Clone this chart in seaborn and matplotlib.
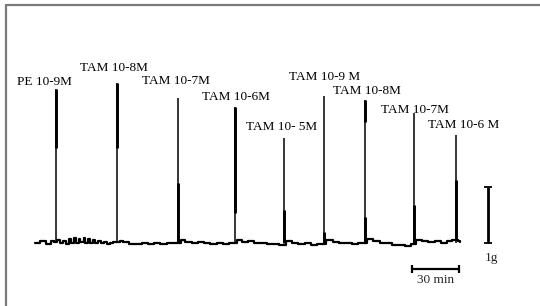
"""
Tension recording: PE then TAM doses, rebuilt with seaborn.
"""

import pandas as pd
import matplotlib
matplotlib.use("Agg")
import matplotlib.pyplot as plt
from matplotlib.lines import Line2D
import seaborn as sns

# baseline of the trace (min, g)
base_t = [0, 2, 3, 6, 7, 9, 10, 12, 14, 16, 18, 20, 22, 23, 25, 26, 28, 29, 31, 32,
          34, 35, 37, 38, 40, 42, 44, 46, 48, 50, 54, 56, 60, 64, 68, 72, 76, 80, 84, 88,
          93, 96, 100, 104, 108, 112, 116, 120, 124, 129, 132, 136, 140, 144, 148, 152, 156,
          160, 164, 168, 172, 176, 180, 186, 190, 194, 198, 202, 206, 212, 216, 220, 224,
          228, 232, 236, 240, 243, 247, 251, 255, 259, 263, 266, 270, 271.2]
base_g = [0, 0, 0.04, 0.04, -0.02, -0.02, 0.04, 0.02, 0.05, 0, 0.04, -0.02, 0.07, 0, 0.09, 0,
          0.07, 0.02, 0.09, 0, 0.07, 0, 0.05, 0, 0.04, 0, 0.02, -0.02, 0, 0.02, 0.04, 0.02,
          -0.02, -0.02, 0, -0.02, 0, -0.02, 0, 0, 0.05, 0.02, 0, 0.02, 0, -0.02, 0, -0.02,
          0, 0.05, 0.02, 0.04, 0, 0, -0.02, -0.02, -0.04, 0.04, 0, -0.02, 0, -0.04, -0.02,
          0.05, 0.02, 0, 0, -0.02, 0, 0.07, 0.04, 0, 0, -0.04, -0.04, -0.05, -0.02, 0.05,
          0.04, 0.02, 0.04, 0, 0.04, 0.05, 0.04, 0.02]

# contractions: time (min) and peak (g)
spike_t = [13.4, 52.3, 91.3, 127.7, 158.9, 184.5, 210.6, 241.9, 268.7]
spike_g = [2.75, 2.86, 2.59, 2.43, 1.88, 2.63, 2.55, 2.32, 1.93]

# darker (thicker) parts of the pen strokes
thick_t = [13.4, 52.3, 91.3, 127.7, 158.9, 184.5, 210.6, 210.6, 241.9, 268.7]
thick_hi = [2.75, 2.86, 1.07, 2.43, 0.59, 0.20, 2.55, 0.46, 0.68, 1.12]
thick_lo = [1.70, 1.70, 0.00, 0.54, 0.00, 0.00, 2.16, 0.00, 0.00, 0.05]

labels = ["PE 10-9M", "TAM 10-8M", "TAM 10-7M", "TAM 10-6M", "TAM 10- 5M",
          "TAM 10-9 M", "TAM 10-8M", "TAM 10-7M", "TAM 10-6 M"]
label_t = [-11.5, 28.7, 68.3, 106.6, 134.7, 162.1, 190.2, 220.8, 250.8]
label_g = [2.875, 3.125, 2.89, 2.61, 2.07, 2.96, 2.71, 2.375, 2.11]

# calibration bars
gram_bar_t = 289.1
time_bar = [240.6, 270.6]
time_bar_g = -0.46

sns.set_style("white")
plt.rcParams["font.family"] = ["Liberation Serif", "DejaVu Serif"]

fig = plt.figure(figsize=(5.4, 3.06), dpi=100)
ax = fig.add_axes([0, 0, 1, 1])

df = pd.DataFrame({"t": base_t, "g": base_g})
sns.lineplot(data=df, x="t", y="g", ax=ax, color="black", lw=1.6,
             estimator=None, sort=False, drawstyle="steps-post")

ax.vlines(spike_t, 0, spike_g, color="black", lw=1.1)
ax.vlines(thick_t, thick_lo, thick_hi, color="black", lw=2.1)

for txt, x, y in zip(labels, label_t, label_g):
    ax.text(x, y, txt, fontsize=9.5, ha="left", va="center", color="black")

# 1 g bar
ax.vlines(gram_bar_t, 0, 1, color="black", lw=2.0)
ax.hlines([0, 1], gram_bar_t - 2.5, gram_bar_t + 2.5, color="black", lw=1.3)
ax.text(gram_bar_t + 2.3, -0.27, "1g", fontsize=9.5, ha="center", va="center")

# 30 min bar
ax.hlines(time_bar_g, time_bar[0], time_bar[1], color="black", lw=1.6)
ax.vlines(time_bar, time_bar_g - 0.07, time_bar_g + 0.07, color="black", lw=1.6)
ax.text(sum(time_bar) / 2, -0.66, "30 min", fontsize=9.5, ha="center", va="center")

ax.set_xlim(-22.34, 322.3)
ax.set_ylim(-1.125, 4.339)
ax.axis("off")

# frame left over from the scan (top and left only)
fig.add_artist(Line2D([6 / 540, 1], [1 - 5 / 306, 1 - 5 / 306], color="#7a7a7a", lw=1.6))
fig.add_artist(Line2D([6 / 540, 6 / 540], [0, 1 - 5 / 306], color="#7a7a7a", lw=1.6))

fig.savefig("out.png", dpi=100)
plt.close(fig)
